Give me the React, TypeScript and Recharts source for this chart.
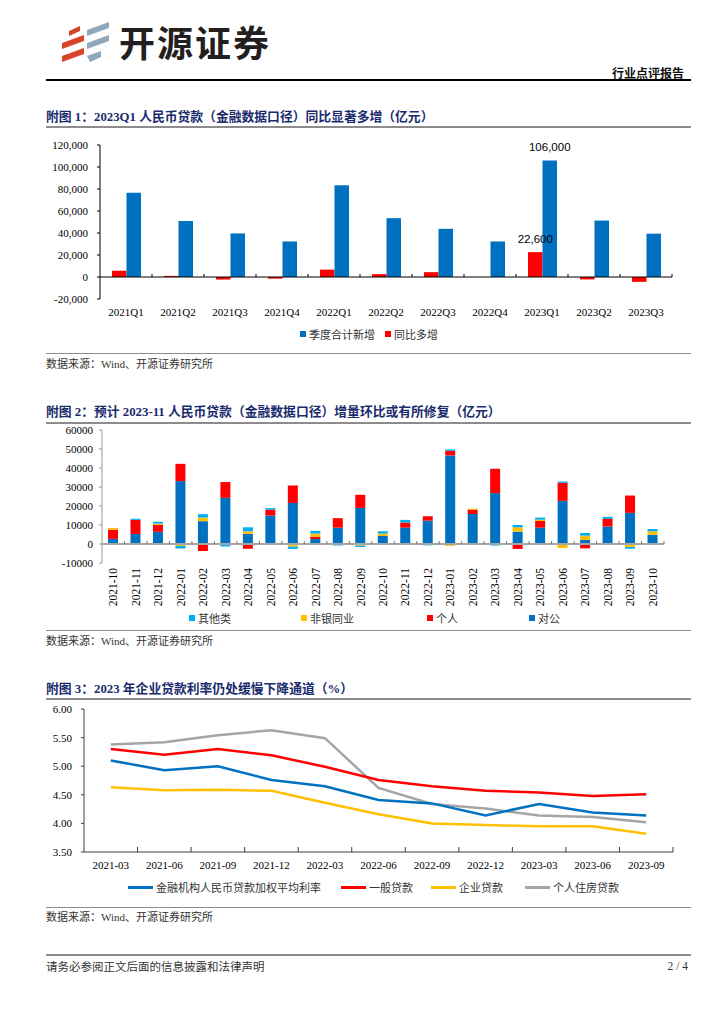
import React from 'react'
import { BarChart, Bar, LineChart, Line, XAxis, YAxis, ReferenceLine, LabelList } from 'recharts'

const SERIF = "'Liberation Serif', 'Noto Sans CJK SC', serif"
const CJK = "'Noto Sans CJK SC', 'Liberation Serif', sans-serif"
const TITLE_COLOR = '#1a2b6d'

// 附图1
const quarters = ['2021Q1', '2021Q2', '2021Q3', '2021Q4', '2022Q1', '2022Q2', '2022Q3', '2022Q4', '2023Q1', '2023Q2', '2023Q3']
const quarterlyNew = [76700, 50900, 39600, 32300, 83400, 53500, 43800, 32300, 106000, 51300, 39400]
const yoyIncrease = [5700, 1000, -2300, -1500, 6700, 2600, 4400, 0, 22600, -2200, -4400]
const q1Ticks = [-20000, 0, 20000, 40000, 60000, 80000, 100000, 120000]
const labelledQuarter = '2023Q1'

// 附图2
const months = [
  '2021-10', '2021-11', '2021-12', '2022-01', '2022-02', '2022-03', '2022-04', '2022-05', '2022-06',
  '2022-07', '2022-08', '2022-09', '2022-10', '2022-11', '2022-12', '2023-01', '2023-02', '2023-03',
  '2023-04', '2023-05', '2023-06', '2023-07', '2023-08', '2023-09', '2023-10',
]
const corporate = [2700, 5300, 6400, 33100, 12000, 24300, 5300, 15000, 21600, 2600, 8600, 19000, 4200, 8600, 12300, 46600, 15800, 26800, 6500, 8600, 22700, 2100, 9200, 16400, 4800]
const personal = [4800, 7400, 3600, 9100, -3700, 8300, -2500, 3100, 9200, 1300, 5000, 6900, -500, 2700, 2300, 2500, 2300, 12800, -2600, 3500, 9500, -2300, 4000, 9100, -500]
const nonBank = [900, -500, 700, -1000, 1900, 0, 1400, 0, -1400, 1600, 0, -900, 1300, -500, 0, -1000, 500, 0, 2300, 700, -2100, 2300, -500, -1600, 1900]
const others = [0, 600, 1000, -1400, 1800, -1300, 2100, 800, -1200, 1400, -800, -700, 1200, 1400, -700, 700, -500, -800, 1200, 1100, 700, 1400, 1100, -900, 1200]
const m2Ticks = [-10000, 0, 10000, 20000, 30000, 40000, 50000, 60000]

// 附图3
const rateMonths = ['2021-03', '2021-06', '2021-09', '2021-12', '2022-03', '2022-06', '2022-09', '2022-12', '2023-03', '2023-06', '2023-09']
const weightedAvg = [5.1, 4.93, 5.0, 4.76, 4.65, 4.41, 4.35, 4.14, 4.34, 4.19, 4.14]
const generalLoan = [5.3, 5.2, 5.3, 5.19, 4.99, 4.76, 4.65, 4.57, 4.54, 4.48, 4.51]
const corpLoan = [4.63, 4.58, 4.59, 4.57, 4.36, 4.16, 4.0, 3.97, 3.95, 3.95, 3.82]
const mortgage = [5.38, 5.42, 5.54, 5.63, 5.49, 4.62, 4.34, 4.26, 4.14, 4.11, 4.02]
const rateTicks = [3.5, 4.0, 4.5, 5.0, 5.5, 6.0]

const chart1Data = quarters.map((q, i) => ({ q, total: quarterlyNew[i], yoy: yoyIncrease[i] }))
const chart2Data = months.map((m, i) => ({ m, corp: corporate[i], pers: personal[i], nb: nonBank[i], oth: others[i] }))
const chart3Data = rateMonths.map((m, i) => ({ i, m, avg: weightedAvg[i], gen: generalLoan[i], corp: corpLoan[i], mort: mortgage[i] }))

const C1 = { top: 10, plotH: 154, left: 100, right: 52 }
const C2 = { top: 10, plotH: 133, left: 102, right: 60 }
const C3 = { top: 9, plotH: 143, left: 84, right: 51 }
const band1 = (724 - C1.left - C1.right) / quarters.length
const band2 = (724 - C2.left - C2.right) / months.length
const band3 = (724 - C3.left - C3.right) / rateMonths.length

const hr = (top: number, color: string, h: number) => (
  <div style={{ position: 'absolute', left: 46, width: 645, top, height: h, background: color }} />
)

const Title = ({ top, text }: { top: number; text: string }) => (
  <div style={{ position: 'absolute', left: 46, top, fontFamily: SERIF, fontWeight: 700, fontSize: 12.8, color: TITLE_COLOR, whiteSpace: 'nowrap', lineHeight: '16px' }}>
    {text}
  </div>
)

const Source = ({ top }: { top: number }) => (
  <div style={{ position: 'absolute', left: 46, top, fontFamily: SERIF, fontSize: 11, color: '#333', whiteSpace: 'nowrap', lineHeight: '14px' }}>
    数据来源：Wind、开源证券研究所
  </div>
)

const LegendSq = ({ left, top, color, label }: { left: number; top: number; color: string; label: string }) => (
  <div style={{ position: 'absolute', left, top, display: 'flex', alignItems: 'center', whiteSpace: 'nowrap' }}>
    <span style={{ width: 6, height: 6, background: color, display: 'inline-block', marginRight: 3 }} />
    <span style={{ fontFamily: CJK, fontSize: 11, color: '#333', lineHeight: '14px' }}>{label}</span>
  </div>
)

const LegendLine = ({ left, top, color, label }: { left: number; top: number; color: string; label: string }) => (
  <div style={{ position: 'absolute', left, top, display: 'flex', alignItems: 'center', whiteSpace: 'nowrap' }}>
    <span style={{ width: 25, height: 3, background: color, display: 'inline-block', marginRight: 3 }} />
    <span style={{ fontFamily: CJK, fontSize: 11, color: '#333', lineHeight: '14px' }}>{label}</span>
  </div>
)

const QuarterTick = (props: any) => {
  const { x, y, payload } = props
  const zeroY = y - (20000 / 140000) * C1.plotH
  return (
    <g>
      <line x1={x + band1 / 2} x2={x + band1 / 2} y1={zeroY - 3} y2={zeroY} stroke="#000" />
      <text x={x} y={y + 17} textAnchor="middle" fontSize={11} fontFamily={SERIF} fill="#000">{payload.value}</text>
    </g>
  )
}

const MonthTick = (props: any) => {
  const { x, y, payload } = props
  const zeroY = y - (10000 / 70000) * C2.plotH
  return (
    <g>
      <line x1={x + band2 / 2} x2={x + band2 / 2} y1={zeroY - 3} y2={zeroY} stroke="#777" />
      <text x={x} y={y + 5} transform={`rotate(-90, ${x}, ${y + 5})`} textAnchor="end" dominantBaseline="central" fontSize={11.5} fontFamily={SERIF} fill="#000">
        {payload.value}
      </text>
    </g>
  )
}

const RateTick = (props: any) => {
  const { x, y, payload } = props
  return (
    <g>
      <line x1={x + band3 / 2} x2={x + band3 / 2} y1={y - 5} y2={y} stroke="#404040" />
      <text x={x} y={y + 17} textAnchor="middle" fontSize={11} fontFamily={SERIF} fill="#000">{rateMonths[payload.value]}</text>
    </g>
  )
}

// only the 2023Q1 bars carry a value label
const peakLabel = (props: any) => {
  const { x, y, width, value, payload } = props
  const idx = quarters.indexOf(labelledQuarter)
  const q = payload?.q
  const match = q !== undefined ? q === labelledQuarter : value === quarterlyNew[idx] || value === yoyIncrease[idx]
  if (!match) return null
  return (
    <text x={x + width / 2} y={y - 9} textAnchor="middle" fontSize={11.5} fontFamily="'Liberation Sans', Arial, sans-serif" fill="#000">
      {Number(value).toLocaleString('en-US')}
    </text>
  )
}

const Logo = () => (
  <svg style={{ position: 'absolute', left: 0, top: 0 }} width={300} height={70}>
    <polygon points="69,31 80,26 80,31 69,36" fill="#d8432b" />
    <polygon points="62,43 84,35 84,41 62,49" fill="#d8432b" />
    <polygon points="62,56 84,48 84,54 62,62" fill="#d8432b" />
    <polygon points="87,30 109,22 109,28 87,36" fill="#8fa8bb" />
    <polygon points="87,43 109,35 109,41 87,49" fill="#8fa8bb" />
    <polygon points="87,56 101,51 101,57 90,62" fill="#8fa8bb" />
    <text x={119} y={57} fontFamily={CJK} fontWeight={700} fontSize={36} fill="#231f20" letterSpacing={2}>开源证券</text>
  </svg>
)

export default function App() {
  return (
    <div style={{ position: 'absolute', left: 0, top: 0, width: 724, height: 1024, background: '#fff', fontFamily: SERIF }}>
      <Logo />
      <div style={{ position: 'absolute', right: 724 - 684, top: 66, fontFamily: CJK, fontWeight: 700, fontSize: 12, color: '#111', lineHeight: '14px' }}>行业点评报告</div>
      {hr(79, '#000', 2)}

      <Title top={109} text="附图 1：2023Q1 人民币贷款（金融数据口径）同比显著多增（亿元）" />
      {hr(126, '#8c8c8c', 2)}
      <div style={{ position: 'absolute', left: 0, top: 135 }}>
        <BarChart width={724} height={189} data={chart1Data} margin={{ top: C1.top, right: C1.right, bottom: 0, left: 0 }} barSize={14.5} barGap={0}>
          <XAxis dataKey="q" interval={0} height={25} tickSize={0} tickMargin={0} axisLine={false} tickLine={false} tick={QuarterTick} />
          <YAxis width={C1.left} domain={[-20000, 120000]} ticks={q1Ticks} interval={0} tickSize={3} tickMargin={9}
            tickFormatter={(v: number) => v.toLocaleString('en-US')}
            tick={{ fontSize: 11, fill: '#000', fontFamily: SERIF }} axisLine={{ stroke: '#000' }} tickLine={{ stroke: '#000' }} />
          <ReferenceLine y={0} stroke="#000" strokeWidth={1} />
          <Bar dataKey="yoy" fill="#ff0000" isAnimationActive={false}>
            <LabelList dataKey="yoy" content={peakLabel} />
          </Bar>
          <Bar dataKey="total" fill="#0070c0" isAnimationActive={false}>
            <LabelList dataKey="total" content={peakLabel} />
          </Bar>
        </BarChart>
      </div>
      <LegendSq left={300} top={327} color="#0070c0" label="季度合计新增" />
      <LegendSq left={385} top={327} color="#ff0000" label="同比多增" />
      {hr(353, '#8c8c8c', 1)}
      <Source top={357} />

      <Title top={404} text="附图 2：预计 2023-11 人民币贷款（金融数据口径）增量环比或有所修复（亿元）" />
      {hr(422, '#8c8c8c', 2)}
      <div style={{ position: 'absolute', left: 0, top: 420 }}>
        <BarChart width={724} height={193} data={chart2Data} margin={{ top: C2.top, right: C2.right, bottom: 0, left: 0 }} barSize={10} stackOffset="sign">
          <XAxis dataKey="m" interval={0} height={50} tickSize={0} tickMargin={0} axisLine={false} tickLine={false} tick={MonthTick} />
          <YAxis width={C2.left} domain={[-10000, 60000]} ticks={m2Ticks} interval={0} tickSize={3} tickMargin={6}
            tick={{ fontSize: 11, fill: '#000', fontFamily: SERIF }} axisLine={{ stroke: '#999' }} tickLine={{ stroke: '#999' }} />
          <ReferenceLine y={0} stroke="#a6a6a6" strokeWidth={2} />
          <Bar dataKey="corp" stackId="s" fill="#0070c0" isAnimationActive={false} />
          <Bar dataKey="pers" stackId="s" fill="#ff0000" isAnimationActive={false} />
          <Bar dataKey="nb" stackId="s" fill="#ffc000" isAnimationActive={false} />
          <Bar dataKey="oth" stackId="s" fill="#00b0f0" isAnimationActive={false} />
        </BarChart>
      </div>
      <LegendSq left={189} top={611} color="#00b0f0" label="其他类" />
      <LegendSq left={301} top={611} color="#ffc000" label="非银同业" />
      <LegendSq left={427} top={611} color="#ff0000" label="个人" />
      <LegendSq left={529} top={611} color="#0070c0" label="对公" />
      {hr(630, '#8c8c8c', 1)}
      <Source top={634} />

      <Title top={681} text="附图 3：2023 年企业贷款利率仍处缓慢下降通道（%）" />
      {hr(698, '#8c8c8c', 2)}
      <div style={{ position: 'absolute', left: 0, top: 700 }}>
        <LineChart width={724} height={172} data={chart3Data} margin={{ top: C3.top, right: C3.right, bottom: 0, left: 0 }}>
          <XAxis dataKey="i" type="number" domain={[-0.5, 10.5]} ticks={rateMonths.map((_, i) => i)} interval={0} height={20}
            tickSize={0} tickMargin={0} axisLine={{ stroke: '#404040' }} tickLine={false} tick={RateTick} />
          <YAxis width={C3.left} domain={[3.5, 6]} ticks={rateTicks} interval={0} tickSize={3} tickMargin={9}
            tickFormatter={(v: number) => v.toFixed(2)}
            tick={{ fontSize: 11, fill: '#000', fontFamily: SERIF }} axisLine={{ stroke: '#404040' }} tickLine={{ stroke: '#404040' }} />
          <Line dataKey="mort" stroke="#a5a5a5" strokeWidth={2.5} dot={false} isAnimationActive={false} />
          <Line dataKey="corp" stroke="#ffc000" strokeWidth={2.5} dot={false} isAnimationActive={false} />
          <Line dataKey="gen" stroke="#ff0000" strokeWidth={2.5} dot={false} isAnimationActive={false} />
          <Line dataKey="avg" stroke="#0070c0" strokeWidth={2.5} dot={false} isAnimationActive={false} />
        </LineChart>
      </div>
      <LegendLine left={128} top={880} color="#0070c0" label="金融机构人民币贷款加权平均利率" />
      <LegendLine left={341} top={880} color="#ff0000" label="一般贷款" />
      <LegendLine left={431} top={880} color="#ffc000" label="企业贷款" />
      <LegendLine left={525} top={880} color="#a5a5a5" label="个人住房贷款" />
      {hr(907, '#8c8c8c', 1)}
      <Source top={910} />

      {hr(954, '#8c8c8c', 2)}
      <div style={{ position: 'absolute', left: 46, top: 959, fontFamily: CJK, fontSize: 11.5, color: '#333', lineHeight: '14px', whiteSpace: 'nowrap' }}>
        请务必参阅正文后面的信息披露和法律声明
      </div>
      <div style={{ position: 'absolute', right: 724 - 688, top: 959, fontFamily: SERIF, fontSize: 11.5, color: '#333', lineHeight: '14px' }}>2 / 4</div>
    </div>
  )
}
